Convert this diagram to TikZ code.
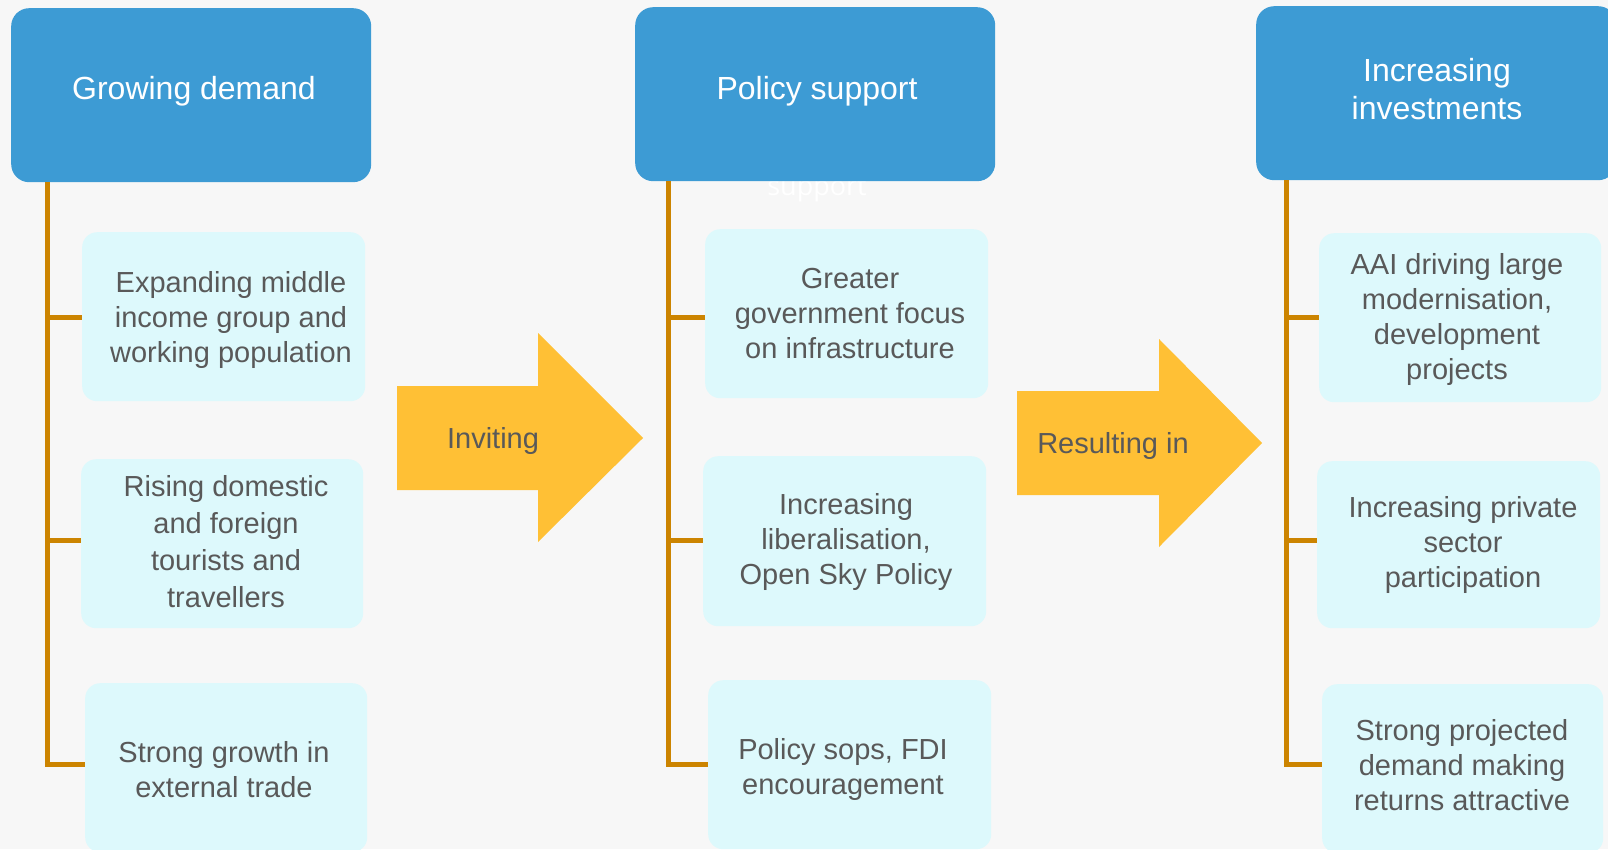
\documentclass[tikz,border=0pt]{standalone}
\usepackage{fontspec}
\setmainfont{Liberation Sans}
\newfontfamily\ghostfont{Open Sans}
\definecolor{pagebg}{RGB}{247,247,247}
\definecolor{topblue}{RGB}{61,155,212}
\definecolor{subcyan}{RGB}{221,249,252}
\definecolor{textgray}{RGB}{89,89,89}
\definecolor{trunkorange}{RGB}{204,132,0}
\definecolor{arrowyellow}{RGB}{255,192,53}
\tikzset{
  topbox/.style={rectangle, rounded corners=18pt, fill=topblue, inner sep=0pt, minimum width=360pt, minimum height=174pt, anchor=north west},
  subbox/.style={rectangle, rounded corners=15pt, fill=subcyan, inner sep=0pt, minimum height=169pt, anchor=north west},
  toptext/.style={text=white, font=\fontsize{32}{38}\selectfont, align=center, inner sep=0pt},
  subtext/.style={text=textgray, font=\fontsize{29}{35}\selectfont, align=center, inner sep=0pt},
  arrowtext/.style={text=textgray, font=\fontsize{29}{35}\selectfont, inner sep=0pt},
  trunk/.style={draw=trunkorange, line width=5pt},
  bigarrow/.style={fill=arrowyellow, draw=none},
}
\begin{document}
\begin{tikzpicture}[x=1pt,y=-1pt]
\useasboundingbox (0,0) rectangle (1608,849);
\fill[pagebg] (0,0) rectangle (1608,849);

% faint caption left under the middle header
\node[anchor=base, text=white, font=\ghostfont\fontsize{27}{32}\selectfont, inner sep=0pt] (ghost) at (817,195) {support};

% column headers
\node[topbox] (top1) at (11,8) {};
\node[topbox] (top2) at (635,7) {};
\node[topbox] (top3) at (1256,6) {};
\node[toptext] (top1t) at (194,91) {Growing demand};
\node[toptext] (top2t) at (817,91) {Policy support};
\node[toptext] (top3t) at (1437,89) {Increasing\\investments};

% column 1 items
\node[subbox, minimum width=283pt] (c1b1) at (82,232) {};
\node[subbox, minimum width=282pt] (c1b2) at (81,459) {};
\node[subbox, minimum width=282pt] (c1b3) at (85,683) {};
\node[subtext] at (231,320) {Expanding middle\\income group and\\working population};
\node[subtext, font=\fontsize{29}{37}\selectfont] at (226,542) {Rising domestic\\and foreign\\tourists and\\travellers};
\node[subtext] at (224,770) {Strong growth in\\external trade};

% column 2 items
\node[subbox, minimum width=283pt] (c2b1) at (705,229) {};
\node[subbox, minimum width=283pt, minimum height=170pt] (c2b2) at (703,456) {};
\node[subbox, minimum width=283pt] (c2b3) at (708,680) {};
\node[subtext] at (850,314) {Greater\\government focus\\on infrastructure};
\node[subtext] at (846,542) {Increasing\\liberalisation,\\Open Sky Policy};
\node[subtext] at (843,769) {Policy sops, FDI\\encouragement};

% column 3 items
\node[subbox, minimum width=282pt] (c3b1) at (1319,233) {};
\node[subbox, minimum width=283pt, minimum height=167pt] (c3b2) at (1317,461) {};
\node[subbox, minimum width=281pt] (c3b3) at (1322,684) {};
\node[subtext] at (1457,319) {AAI driving large\\modernisation,\\development\\projects};
\node[subtext] at (1463,545) {Increasing private\\sector\\participation};
\node[subtext] at (1462,765) {Strong projected\\demand making\\returns attractive};

% tree trunks and branches
\coordinate (t1) at (47,182);
\coordinate (t2) at (668,181);
\coordinate (t3) at (1286,180);
\coordinate (yb1) at (0,317);
\coordinate (yb2) at (0,540);
\coordinate (yb3) at (0,764);
\draw[trunk] (t1) |- (c1b3.west |- yb3);
\draw[trunk] (t1 |- yb1) -- (c1b1.west |- yb1);
\draw[trunk] (t1 |- yb2) -- (c1b2.west |- yb2);
\draw[trunk] (t2) |- (c2b3.west |- yb3);
\draw[trunk] (t2 |- yb1) -- (c2b1.west |- yb1);
\draw[trunk] (t2 |- yb2) -- (c2b2.west |- yb2);
\draw[trunk] (t3) |- (c3b3.west |- yb3);
\draw[trunk] (t3 |- yb1) -- (c3b1.west |- yb1);
\draw[trunk] (t3 |- yb2) -- (c3b2.west |- yb2);

% transition arrows
\fill[bigarrow] (397,386) -- (538,386) -- (538,333) -- (643,438) -- (538,542) -- (538,490) -- (397,490) -- cycle;
\node[arrowtext] (inv) at (493,441) {Inviting};
\fill[bigarrow] (1017,391) -- (1159,391) -- (1159,339) -- (1262,443) -- (1159,547) -- (1159,495) -- (1017,495) -- cycle;
\node[arrowtext] (res) at (1113,446) {Resulting in};
\end{tikzpicture}
\end{document}
